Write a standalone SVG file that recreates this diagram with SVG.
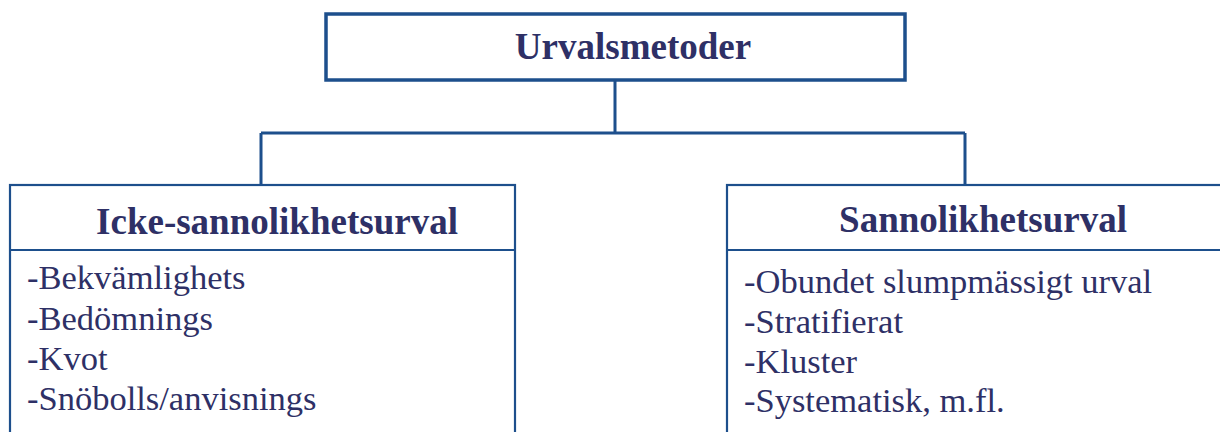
<svg xmlns="http://www.w3.org/2000/svg" width="1220" height="432" viewBox="0 0 1220 432">
<style>
.box{fill:#fff;stroke:#1d4f8c;stroke-width:2.2}
.top{fill:#fff;stroke:#1d4f8c;stroke-width:3.5}
.conn{fill:none;stroke:#1d4f8c;stroke-width:3}
.h{font-family:"Liberation Serif",serif;font-weight:bold;font-size:37px;fill:#2e3066;text-anchor:middle}
.t{font-family:"Liberation Serif",serif;font-size:34.5px;fill:#2e3066}
</style>
<rect width="1220" height="432" fill="#fff"/>
<g id="connectors">
<path class="conn" d="M615 80 V133 M261 133 H965 M261 133 V185 M965 133 V185"/>
</g>
<g id="root">
<rect class="top" x="326" y="14" width="579" height="66"/>
<text class="h" x="633" y="59">Urvalsmetoder</text>
</g>
<g id="icke">
<rect class="box" x="10" y="185" width="505" height="260"/>
<line class="box" x1="10" y1="250" x2="515" y2="250"/>
<text class="h" x="277" y="234">Icke-sannolikhetsurval</text>
<text class="t" x="27" y="289">-Bekvämlighets</text>
<text class="t" x="27" y="330">-Bedömnings</text>
<text class="t" x="27" y="370">-Kvot</text>
<text class="t" x="27" y="410">-Snöbolls/anvisnings</text>
</g>
<g id="sannolikhet">
<rect class="box" x="727" y="185" width="510" height="260"/>
<line class="box" x1="727" y1="250" x2="1230" y2="250"/>
<text class="h" x="983" y="232">Sannolikhetsurval</text>
<text class="t" x="744" y="293">-Obundet slumpmässigt urval</text>
<text class="t" x="744" y="333">-Stratifierat</text>
<text class="t" x="744" y="373">-Kluster</text>
<text class="t" x="744" y="412">-Systematisk, m.fl.</text>
</g>
</svg>
